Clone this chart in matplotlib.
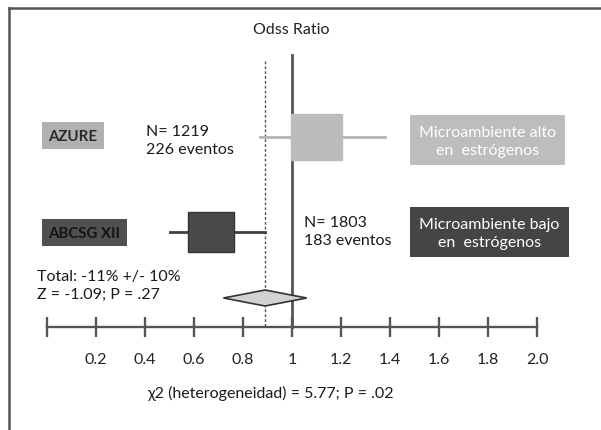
import matplotlib
matplotlib.use("Agg")
import matplotlib.pyplot as plt
from matplotlib.patches import Rectangle, Polygon

plt.rcParams['font.family'] = ['Lato', 'DejaVu Sans']

# study estimates (odds ratio, lower, upper)
studies = ["AZURE", "ABCSG XII"]
or_est = [1.10, 0.67]
or_low = [0.87, 0.50]
or_high = [1.38, 0.89]
study_n = ["N= 1219\n226 eventos", "N= 1803\n183 eventos"]
groups = ["Microambiente alto\nen  estrógenos", "Microambiente bajo\nen  estrógenos"]

# pooled result
pooled_est = 0.89
pooled_low = 0.72
pooled_high = 1.06

ticks = [0, 0.2, 0.4, 0.6, 0.8, 1.0, 1.2, 1.4, 1.6, 1.8, 2.0]
tick_labels = ["", "0.2", "0.4", "0.6", "0.8", "1", "1.2", "1.4", "1.6", "1.8", "2.0"]

W, H = 601, 431
fig = plt.figure(figsize=(W / 100, H / 100), dpi=100)
fig.patch.set_facecolor("white")

# overlay in pixel units for labels, boxes and frame
ann = fig.add_axes([0, 0, 1, 1])
ann.set_xlim(0, W)
ann.set_ylim(H, 0)
ann.axis("off")

# forest axes: x in odds ratio units, y in pixel rows
x0, x1 = 47, 537
ytop, ybot = 56, 328
ax = fig.add_axes([x0 / W, (H - ybot) / H, (x1 - x0) / W, (ybot - ytop) / H])
ax.set_xlim(0, 2.0)
ax.set_ylim(ybot, ytop)
ax.patch.set_alpha(0)
for s in ["top", "left", "right"]:
    ax.spines[s].set_visible(False)
ax.spines["bottom"].set_color("#555555")
ax.spines["bottom"].set_linewidth(1.7)
ax.set_yticks([])
ax.set_xticks(ticks)
ax.set_xticklabels(tick_labels)
ax.tick_params(axis="x", direction="inout", length=14, width=1.7, color="#555555",
               pad=11, labelsize=11.5, labelcolor="#222222")

fills = ["#bcbcbc", "#4a4a4a"]
whisk = ["#b4b4b4", "#404040"]
rows = [138, 233]
sq_w = [0.205, 0.185]
sq_h = [46, 40]

# reference lines
ax.plot([1.0, 1.0], [ytop, ybot], color="#555555", lw=2.0, clip_on=False, zorder=1)
ax.plot([pooled_est, pooled_est], [62, ybot], color="#555555", lw=1.0,
        ls=(0, (2, 1.5)), clip_on=False, zorder=1)

for i in range(len(studies)):
    y = rows[i]
    ax.plot([or_low[i], or_high[i]], [y, y], color=whisk[i], lw=2.0, clip_on=False, zorder=2)
    ax.add_patch(Rectangle((or_est[i] - sq_w[i] / 2, y - sq_h[i] / 2), sq_w[i], sq_h[i],
                           facecolor=fills[i], edgecolor=fills[i] if i == 0 else "#333333",
                           lw=1.0, clip_on=False, zorder=3))

# pooled diamond
yd = 299
ax.add_patch(Polygon([(pooled_low, yd), (pooled_est, yd - 8), (pooled_high, yd), (pooled_est, yd + 8)],
                     closed=True, facecolor="#d2d2d2", edgecolor="#333333", lw=1.2,
                     clip_on=False, zorder=3))

# frame
ann.plot([8.5, 8.5], [8.5, H], color="#555555", lw=1.8)
ann.plot([8.5, W], [8.5, 8.5], color="#555555", lw=1.8)

ann.text(291, 30, "Odss Ratio", ha="center", va="center", fontsize=11.5, color="#222222")

# study name boxes
name_box = [(42, 123, 62, 27), (42, 220, 85, 27)]
name_fill = ["#b0b0b0", "#505050"]
for i in range(len(studies)):
    bx, by, bw, bh = name_box[i]
    ann.add_patch(Rectangle((bx, by), bw, bh, facecolor=name_fill[i], edgecolor="none"))
    ann.text(bx + bw / 2, by + bh / 2 + 1, studies[i], ha="center", va="center",
             fontsize=10.8, fontweight="bold", color="#2a2a2a" if i == 0 else "#141414")

# sample sizes
n_pos = [(146, 141), (304, 232)]
for i in range(len(studies)):
    ann.text(n_pos[i][0], n_pos[i][1], study_n[i], ha="left", va="center",
             fontsize=11.5, color="#1a1a1a", linespacing=1.3)

# group boxes
grp_box = [(410, 116, 155, 50), (410, 208, 159, 50)]
grp_fill = ["#bdbdbd", "#454545"]
for i in range(len(groups)):
    bx, by, bw, bh = grp_box[i]
    ann.add_patch(Rectangle((bx, by), bw, bh, facecolor=grp_fill[i], edgecolor="none"))
    ann.text(bx + bw / 2, by + bh / 2 + 1, groups[i], ha="center", va="center",
             fontsize=11.5, color="white", linespacing=1.3)

ann.text(37, 286, "Total: -11% +/- 10%\nZ = -1.09; P = .27", ha="left", va="center",
         fontsize=11.5, color="#1a1a1a", linespacing=1.3)

ann.text(147, 393, "χ2 (heterogeneidad) = 5.77; P = .02", ha="left", va="center",
         fontsize=11.5, color="#1a1a1a")

fig.savefig("out.png", dpi=100)
